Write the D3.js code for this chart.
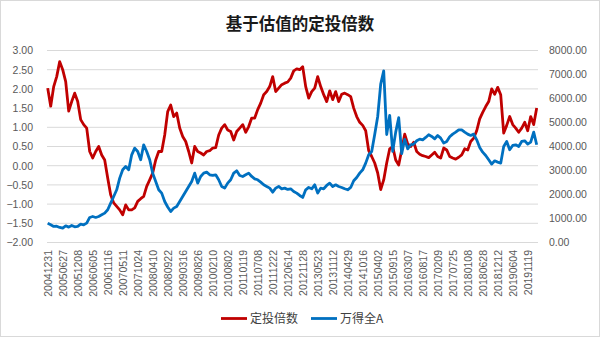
<!DOCTYPE html>
<html><head><meta charset="utf-8">
<script src="https://cdn.jsdelivr.net/npm/d3@7"></script>
<style>body{margin:0;background:#fff}</style>
</head><body>
<svg id="c" width="600" height="338"></svg>
<script>
const dateLabels = ["20041231","20050627","20051208","20060605","20061116","20070511","20071024","20080410","20080922","20090316","20090826","20100210","20100802","20110119","20110708","20111222","20120614","20121128","20130523","20131112","20140429","20141016","20150402","20150915","20160307","20160817","20170209","20170725","20180108","20180628","20181212","20190604","20191119"];
const multiple = [2.02,1.55,2.06,2.32,2.71,2.50,2.19,1.42,1.67,1.89,1.67,1.20,1.07,0.98,0.37,0.20,0.37,0.50,0.28,0.15,-0.32,-0.76,-0.97,-1.06,-1.15,-1.28,-1.02,-1.15,-1.15,-1.10,-0.93,-0.86,-0.80,-0.54,-0.37,-0.19,0.15,0.37,0.37,0.80,1.41,1.58,1.28,1.37,0.98,0.76,0.63,0.37,0.07,0.50,0.37,0.33,0.28,0.37,0.39,0.46,0.47,0.80,0.98,1.07,0.93,0.89,0.67,0.89,0.98,1.07,0.87,1.02,1.24,1.24,1.46,1.63,1.85,1.93,2.06,2.32,1.93,2.02,2.11,2.15,2.18,2.28,2.47,2.52,2.50,2.58,2.06,1.76,1.93,2.02,2.32,2.06,1.85,1.67,1.95,1.72,1.93,1.67,1.86,1.89,1.85,1.80,1.50,1.28,1.13,1.05,0.91,0.39,0.24,0.07,-0.19,-0.62,-0.37,0.07,0.44,0.50,0.15,0.02,0.41,0.82,0.57,0.50,0.61,0.37,0.30,0.26,0.24,0.21,0.28,0.35,0.24,0.20,0.46,0.41,0.24,0.20,0.17,0.22,0.28,0.44,0.41,0.63,0.72,0.91,1.22,1.39,1.54,1.67,2.00,1.86,2.04,1.85,0.85,1.05,1.28,1.07,0.98,0.87,0.98,1.13,0.91,1.28,1.07,1.50];
const windA = [800,738,668,680,626,598,696,640,710,654,668,765,738,807,1043,1085,1043,1085,1154,1224,1363,1640,1918,2196,2682,3029,3168,3029,3654,3932,3793,3446,4071,3793,3446,2890,2543,2196,2057,1710,1480,1293,1432,1501,1710,1918,2127,2335,2543,2890,2474,2751,2890,2932,2821,2793,2821,2613,2335,2265,2474,2613,2890,2988,2793,2751,2821,2890,2751,2654,2613,2515,2404,2335,2265,2098,2265,2335,2238,2265,2210,2238,2127,2057,1960,1877,2196,2293,2238,2404,2057,2265,2238,2376,2474,2335,2404,2335,2293,2238,2196,2293,2571,2710,2890,3029,3307,3654,3793,4500,5250,6600,7150,4500,5300,3800,4600,5200,3700,4300,3900,4071,4099,4238,4307,4279,4376,4488,4418,4321,4460,4349,4141,4210,4404,4516,4599,4696,4696,4599,4516,4460,4516,4279,3960,3765,3627,3446,3265,3404,3349,3307,4002,4210,3863,4043,4071,4002,4210,4238,4099,4182,4599,4071];
const leftTicks = [3,2.5,2,1.5,1,0.5,0,-0.5,-1,-1.5,-2];
const rightTicks = [0,1000,2000,3000,4000,5000,6000,7000,8000];
const labelStep = 5;
const seriesNames = ["定投倍数","万得全A"];
const colors = ["#c00000","#0070c0"];

const svg = d3.select("#c");
svg.append("rect").attr("x",0.5).attr("y",0.5).attr("width",599).attr("height",336)
  .attr("fill","#fff").attr("stroke","#d9d9d9");

const N = multiple.length;
const x = d3.scaleLinear().domain([0, N-1]).range([47.7, 536.7]);
const yL = d3.scaleLinear().domain([-2,3]).range([242.5,50.5]);
const yR = d3.scaleLinear().domain([0,8000]).range([242.5,50.5]);

// gridlines
svg.append("g").selectAll("line").data(leftTicks).join("line")
  .attr("x1",47).attr("x2",538).attr("y1",d=>yL(d)).attr("y2",d=>yL(d))
  .attr("stroke","#d9d9d9").attr("stroke-width",1);

// left axis
const gL = svg.append("g").attr("transform","translate(38,0)")
  .call(d3.axisLeft(yL).tickValues(leftTicks).tickFormat(d3.format(".2f")).tickSize(0).tickPadding(5));
gL.select(".domain").remove();
gL.selectAll("text").attr("font-family","Liberation Sans, Arial, sans-serif").attr("font-size","10.5px").attr("fill","#595959");

// right axis
const gR = svg.append("g").attr("transform","translate(544,0)")
  .call(d3.axisRight(yR).tickValues(rightTicks).tickFormat(d3.format(".2f")).tickSize(0).tickPadding(5));
gR.select(".domain").remove();
gR.selectAll("text").attr("font-family","Liberation Sans, Arial, sans-serif").attr("font-size","10.5px").attr("fill","#595959");

// x axis
const idx = dateLabels.map((d,k)=>k*labelStep);
const gX = svg.append("g").attr("transform","translate(0,246)")
  .call(d3.axisBottom(x).tickValues(idx).tickFormat(i=>dateLabels[i/labelStep]).tickSize(0).tickPadding(0));
gX.select(".domain").remove();
gX.selectAll("text")
  .attr("font-family","Liberation Sans, Arial, sans-serif").attr("font-size","10.5px").attr("fill","#595959")
  .attr("transform","rotate(-90)").attr("text-anchor","end").attr("x",-4).attr("y",0).attr("dy","0.35em");

// lines
const lineL = d3.line().x((d,i)=>x(i)).y(d=>yL(d));
const lineR = d3.line().x((d,i)=>x(i)).y(d=>yR(d));
svg.append("path").attr("d",lineL(multiple)).attr("fill","none").attr("stroke",colors[0])
  .attr("stroke-width",2.8).attr("stroke-linejoin","round");
svg.append("path").attr("d",lineR(windA)).attr("fill","none").attr("stroke",colors[1])
  .attr("stroke-width",2.8).attr("stroke-linejoin","round");

// title
svg.append("text").attr("x",300).attr("y",30).attr("text-anchor","middle")
  .attr("font-family","Noto Sans CJK SC, sans-serif").attr("font-weight","bold").attr("font-size","16.5px")
  .attr("fill","#1a1a1a").text("基于估值的定投倍数");

// legend
const legX = [221, 311];
const lg = svg.append("g");
seriesNames.forEach((n,k)=>{
  lg.append("line").attr("x1",legX[k]).attr("x2",legX[k]+26).attr("y1",318.5).attr("y2",318.5)
    .attr("stroke",colors[k]).attr("stroke-width",2.8);
  lg.append("text").attr("x",legX[k]+29).attr("y",318.5).attr("dy","0.36em")
    .attr("font-family","Noto Sans CJK SC, sans-serif").attr("font-size","12px").attr("fill","#404040").text(n);
});
</script>
</body></html>
